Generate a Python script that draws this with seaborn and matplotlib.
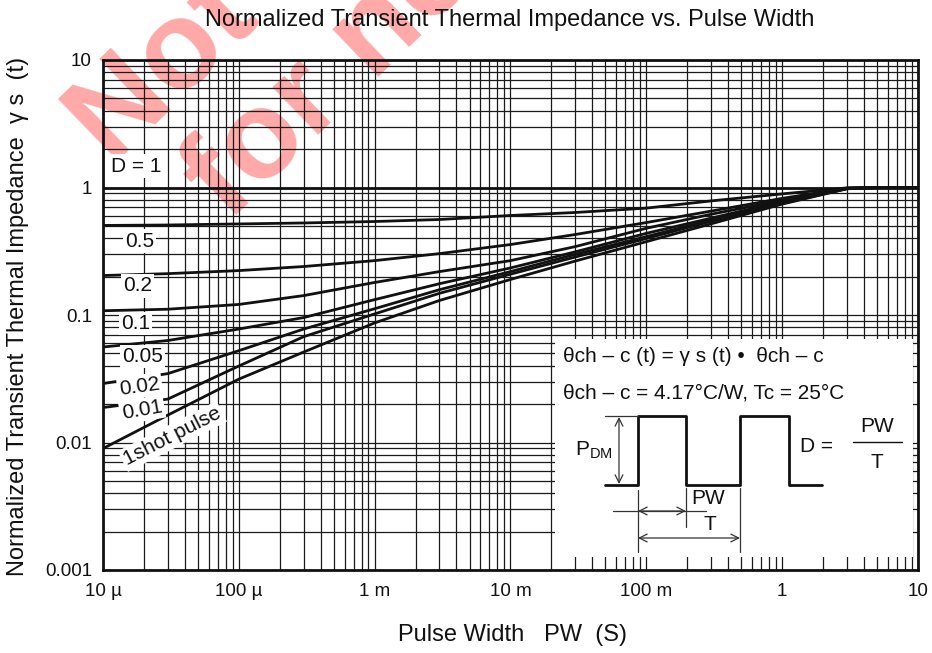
import numpy as np
import pandas as pd
import matplotlib
matplotlib.use("Agg")
import matplotlib.pyplot as plt
import seaborn as sns
from matplotlib.patches import Rectangle
from matplotlib.lines import Line2D
from matplotlib.ticker import FixedLocator, FixedFormatter, LogLocator, NullFormatter

# ---------------- data ----------------
pulse_width = [1e-5, 3e-5, 1e-4, 3e-4, 1e-3, 3e-3, 1e-2, 3e-2, 0.1, 0.3, 1, 3, 5, 10]
d_1      = [1.0] * 14
d_0p5    = [0.504, 0.508, 0.518, 0.527, 0.541, 0.561, 0.603, 0.637, 0.689, 0.785, 0.891, 0.993, 1.0, 1.0]
d_0p2    = [0.204, 0.211, 0.223, 0.240, 0.267, 0.303, 0.357, 0.428, 0.531, 0.653, 0.822, 0.989, 1.0, 1.0]
d_0p1    = [0.108, 0.111, 0.121, 0.142, 0.180, 0.219, 0.267, 0.344, 0.479, 0.617, 0.794, 0.986, 1.0, 1.0]
d_0p05   = [0.0561, 0.0631, 0.0776, 0.0955, 0.132, 0.176, 0.234, 0.313, 0.437, 0.575, 0.776, 0.984, 1.0, 1.0]
d_0p02   = [0.0290, 0.0347, 0.0525, 0.0776, 0.112, 0.158, 0.219, 0.299, 0.412, 0.556, 0.759, 0.982, 1.0, 1.0]
d_0p01   = [0.0188, 0.0219, 0.0398, 0.0676, 0.102, 0.148, 0.209, 0.285, 0.398, 0.543, 0.750, 0.980, 1.0, 1.0]
d_single = [0.00897, 0.0164, 0.0314, 0.0512, 0.0867, 0.130, 0.190, 0.265, 0.376, 0.519, 0.741, 0.977, 1.0, 1.0]

series_names = ["D = 1", "0.5", "0.2", "0.1", "0.05", "0.02", "0.01", "1shot pulse"]
series_vals = [d_1, d_0p5, d_0p2, d_0p1, d_0p05, d_0p02, d_0p01, d_single]

x_ticks = [1e-5, 1e-4, 1e-3, 1e-2, 1e-1, 1, 10]
x_tick_labels = ["10 µ", "100 µ", "1 m", "10 m", "100 m", "1", "10"]
y_ticks = [1e-3, 1e-2, 1e-1, 1, 10]
y_tick_labels = ["0.001", "0.01", "0.1", "1", "10"]

rows = []
for name, vals in zip(series_names, series_vals):
    for x, v in zip(pulse_width, vals):
        rows.append({"pw": x, "z": v, "duty": name})
df = pd.DataFrame(rows)

# ---------------- style ----------------
sns.set_style("white")
plt.rcParams["font.family"] = ["Liberation Sans", "DejaVu Sans"]
INK = "#111111"

W, H = 932, 653
fig = plt.figure(figsize=(W / 100, H / 100), dpi=100)
ax = fig.add_axes([103 / W, 1 - 570 / H, 815 / W, 510 / H])
tf = fig.transFigure

def fp(px, py):
    return (px / W, 1 - py / H)

sns.lineplot(data=df, x="pw", y="z", hue="duty", palette=[INK] * 8,
             legend=False, linewidth=2.0, estimator=None, sort=False, ax=ax, zorder=3)

ax.set_xscale("log")
ax.set_yscale("log")
ax.set_xlim(1e-5, 10)
ax.set_ylim(1e-3, 10)

ax.xaxis.set_major_locator(FixedLocator(x_ticks))
ax.xaxis.set_major_formatter(FixedFormatter(x_tick_labels))
ax.yaxis.set_major_locator(FixedLocator(y_ticks))
ax.yaxis.set_major_formatter(FixedFormatter(y_tick_labels))
ax.xaxis.set_minor_locator(LogLocator(base=10, subs=np.arange(2, 10), numticks=20))
ax.yaxis.set_minor_locator(LogLocator(base=10, subs=np.arange(2, 10), numticks=20))
ax.xaxis.set_minor_formatter(NullFormatter())
ax.yaxis.set_minor_formatter(NullFormatter())
ax.tick_params(which="both", length=0)
ax.tick_params(axis="x", pad=9)
ax.tick_params(axis="y", pad=8)
for lab in ax.get_xticklabels() + ax.get_yticklabels():
    lab.set_fontsize(13.5)
    lab.set_color(INK)

ax.set_axisbelow(True)
ax.grid(which="both", color="#1a1a1a", linewidth=0.9)
for s in ax.spines.values():
    s.set_linewidth(2.0)
    s.set_color(INK)
    s.set_visible(True)
ax.set_xlabel("")
ax.set_ylabel("")

# watermark (under the grid, extends outside the axes)
wm = dict(fontsize=90, fontweight="bold", color=(1, 0, 0), alpha=0.34,
          rotation=44, rotation_mode="anchor", ha="left", va="baseline",
          zorder=0.1, clip_on=False, transform=tf)
ax.text(*fp(112, 166), "Not recommended", **wm)
ax.text(*fp(228, 222), "for new design", **wm)

# white inset area
ax.add_patch(Rectangle((0.555, 0.0255), 0.439, 0.4275, transform=ax.transAxes,
                       facecolor="white", edgecolor="none", zorder=2.5))

# curve labels
box = dict(facecolor="white", edgecolor="none", pad=1.5)
lab_specs = [
    ("D = 1", 0.041, 0.792, 0),
    ("0.5", 0.045, 0.645, 0),
    ("0.2", 0.042, 0.557, 0),
    ("0.1", 0.040, 0.484, 0),
    ("0.05", 0.048, 0.418, 0),
    ("0.02", 0.045, 0.360, 8),
    ("0.01", 0.048, 0.314, 10),
    ("1shot pulse", 0.085, 0.262, 27),
]
for txt, fx, fy, rot in lab_specs:
    ax.text(fx, fy, txt, transform=ax.transAxes, ha="center", va="center",
            fontsize=15, rotation=rot, color=INK, bbox=box, zorder=4)

# titles
fig.text(*fp(510, 20), "Normalized Transient Thermal Impedance vs. Pulse Width",
         ha="center", va="center", fontsize=17, color=INK)
fig.text(*fp(18, 316), "Normalized Transient Thermal Impedance  γ s  (t)",
         ha="center", va="center", rotation=90, fontsize=17, color=INK)
fig.text(*fp(512, 635), "Pulse Width   PW  (S)", ha="center", va="center",
         fontsize=17, color=INK)

# inset content
fig.text(*fp(563, 357), "θch – c (t) = γ s (t) •  θch – c", ha="left", va="center",
         fontsize=15, color=INK)
fig.text(*fp(563, 393), "θch – c = 4.17°C/W, Tc = 25°C", ha="left", va="center",
         fontsize=15, color=INK)

wave_px = [605, 638, 638, 686, 686, 740, 740, 789, 789, 822]
wave_py = [485, 485, 416, 416, 485, 485, 416, 416, 485, 485]
fig.add_artist(Line2D([p / W for p in wave_px], [1 - p / H for p in wave_py],
                      color=INK, lw=2.0, transform=tf))

def seg(x0, y0, x1, y1, lw=0.9, c="#333333"):
    fig.add_artist(Line2D([x0 / W, x1 / W], [1 - y0 / H, 1 - y1 / H],
                          color=c, lw=lw, transform=tf))

def darrow(x0, y0, x1, y1):
    ax.annotate("", xy=fp(x1, y1), xytext=fp(x0, y0), xycoords=tf, textcoords=tf,
                arrowprops=dict(arrowstyle="<->", lw=0.9, color="#333333",
                                mutation_scale=14, shrinkA=0, shrinkB=0),
                zorder=6, annotation_clip=False)

seg(605, 416, 638, 416)
darrow(619, 417, 619, 484)
seg(638, 490, 638, 552)
seg(686, 488, 686, 527)
seg(740, 488, 740, 552)
seg(613, 511, 706, 511)
darrow(638, 511, 686, 511)
darrow(638, 538, 740, 538)

fig.text(*fp(594, 450), r"P$_{\mathregular{DM}}$", ha="center", va="center",
         fontsize=15, color=INK)
fig.text(*fp(708, 498), "PW", ha="center", va="center", fontsize=15, color=INK)
fig.text(*fp(710, 524), "T", ha="center", va="center", fontsize=15, color=INK)
fig.text(*fp(800, 446), "D =", ha="left", va="center", fontsize=15, color=INK)
fig.text(*fp(877, 426), "PW", ha="center", va="center", fontsize=15, color=INK)
seg(853, 442, 902, 442, lw=1.0, c=INK)
fig.text(*fp(877, 463), "T", ha="center", va="center", fontsize=15, color=INK)

fig.savefig("out.png", dpi=100)
